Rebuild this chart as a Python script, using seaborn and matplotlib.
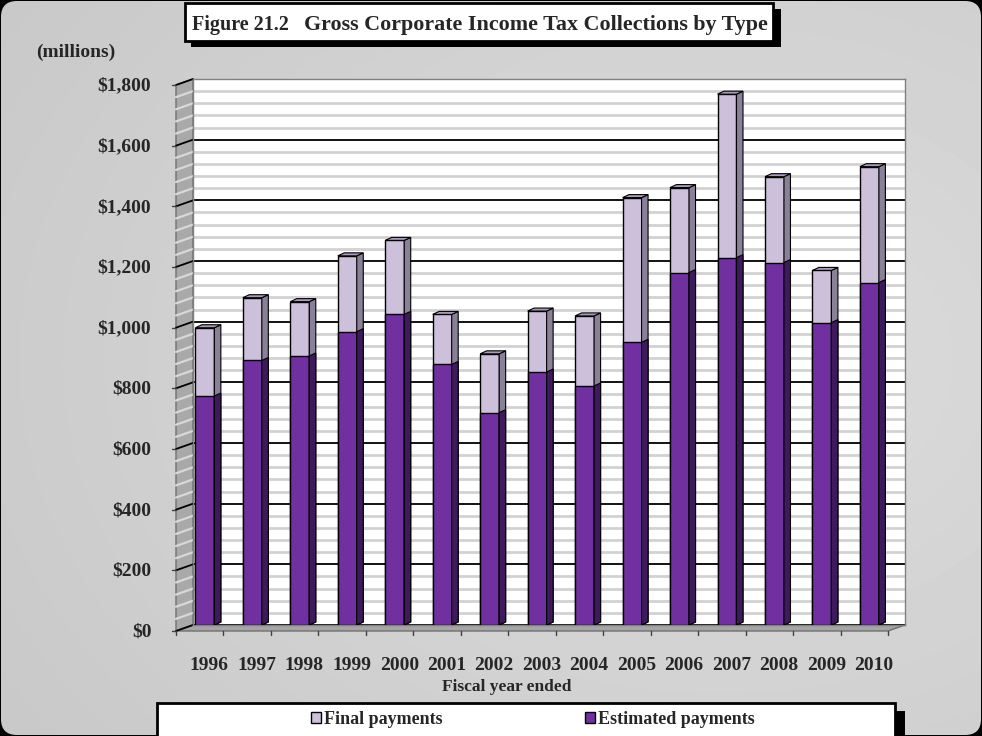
import numpy as np
import pandas as pd
import matplotlib
matplotlib.use("Agg")
import matplotlib.pyplot as plt
import matplotlib.transforms as mtransforms
from matplotlib.patches import Polygon, Rectangle, FancyBboxPatch, Patch
import seaborn as sns

# ---- data (millions of dollars) ----
years = [str(y) for y in range(1996, 2011)]
estimated = [755, 872, 887, 967, 1024, 859, 700, 834, 788, 932, 1162, 1211, 1195, 997, 1129]
final = [225, 207, 179, 250, 244, 165, 194, 201, 231, 477, 280, 539, 283, 172, 382]
y_ticks = list(range(0, 1801, 200))
y_ticklabels = [f"${v:,}" for v in y_ticks]

df = pd.DataFrame({"year": years, "estimated": estimated, "final": final})
df["total"] = df["estimated"] + df["final"]

# ---- colours ----
EST, EST_SIDE = "#7030A0", "#3E1A5C"
FIN, FIN_SIDE, FIN_TOP = "#CCC0DA", "#8A8098", "#A89CB8"

W, H = 982, 736
sns.set_theme(style="white")
plt.rcParams["font.family"] = ["Liberation Serif", "DejaVu Serif"]
plt.rcParams["font.weight"] = "bold"

fig = plt.figure(figsize=(W / 100, H / 100), dpi=100)
fig.patch.set_facecolor("black")

# background canvas in pixel units
bg = fig.add_axes([0, 0, 1, 1], zorder=0)
bg.set_xlim(0, W)
bg.set_ylim(H, 0)
bg.axis("off")

yy, xx = np.mgrid[0:H, 0:W]
r = np.hypot((xx - 720) / W, (yy - 360) / H)
shade = 0.865 - 0.09 * r
img = bg.imshow(shade, cmap="gray", vmin=0, vmax=1, extent=(0, W, H, 0),
                aspect="auto", zorder=0, interpolation="bilinear")
panel = FancyBboxPatch((1, 1), W - 2, H - 2, boxstyle="round,pad=0,rounding_size=16",
                       facecolor="none", edgecolor="none")
bg.add_patch(panel)
img.set_clip_path(panel)

# plot area (back wall)
L, R, T, B = 193, 905, 79, 625
ax = fig.add_axes([L / W, 1 - B / H, (R - L) / W, (B - T) / H], zorder=2)
ax.set_facecolor("white")

sns.barplot(data=df, x="year", y="total", color=FIN, width=0.4, saturation=1,
            edgecolor="black", linewidth=1.0, ax=ax, zorder=3)
sns.barplot(data=df, x="year", y="estimated", color=EST, width=0.4, saturation=1,
            edgecolor="black", linewidth=1.0, ax=ax, zorder=3)

ax.set_xlim(-0.25, 14.75)
ax.set_ylim(0, 1800)

# depth of the columns, converted to data units
px_x = (R - L) / 15.0
px_y = (B - T) / 1800.0
dx, dy = 6.5 / px_x, 3.0 / px_y

bars = list(ax.patches)
n = len(years)
for i, p in enumerate(bars):
    x, w, y0, h = p.get_x(), p.get_width(), p.get_y(), p.get_height()
    side = FIN_SIDE if i < n else EST_SIDE
    ax.add_patch(Polygon([(x + w, y0), (x + w + dx, y0 + dy), (x + w + dx, y0 + h + dy), (x + w, y0 + h)],
                         closed=True, facecolor=side, edgecolor="black", linewidth=0.8, zorder=3))
    if i < n:
        y1 = y0 + h
        ax.add_patch(Polygon([(x, y1), (x + dx, y1 + dy), (x + w + dx, y1 + dy), (x + w, y1)],
                             closed=True, facecolor=FIN_TOP, edgecolor="black", linewidth=0.8, zorder=3))

# gridlines
ax.set_yticks(y_ticks, labels=y_ticklabels)
ax.set_yticks(np.arange(0, 1801, 40), minor=True)
ax.grid(axis="y", which="minor", color="#D2D2D2", linewidth=2.0)
ax.grid(axis="y", which="major", color="black", linewidth=1.3)
ax.grid(axis="x", which="both", visible=False)
ax.set_axisbelow(True)
for s in ax.spines.values():
    s.set_color("#808080")
    s.set_linewidth(1.0)

ax.tick_params(axis="both", which="both", length=0)
ax.tick_params(axis="y", pad=30, labelsize=14)
ax.tick_params(axis="x", pad=23, labelsize=14)
ax.set_xticks(range(n), labels=years)

down = mtransforms.ScaledTranslation(0, -0.05, fig.dpi_scale_trans)
for lbl in ax.get_yticklabels():
    lbl.set_transform(lbl.get_transform() + down)
    lbl.set_fontweight("bold")
right = mtransforms.ScaledTranslation(0.045, 0, fig.dpi_scale_trans)
for lbl in ax.get_xticklabels():
    lbl.set_transform(lbl.get_transform() + right)
    lbl.set_fontweight("bold")

ax.set_xlabel("Fiscal year ended", fontsize=12.5, fontweight="bold", va="center")
ax.xaxis.set_label_coords((507 - L) / (R - L), (B - 687) / (B - T))
ax.set_ylabel("(millions)", fontsize=14, fontweight="bold", rotation=0, va="center", ha="center")
ax.yaxis.set_label_coords((76 - L) / (R - L), (B - 52) / (B - T))

# side wall and floor of the plot box
DX, DY = -17, 6
bg.add_patch(Polygon([(L + DX, T + DY), (L, T), (L, B), (L + DX, B + DY)], closed=True,
                     facecolor="#A9A9A9", edgecolor="#707070", linewidth=1.0, zorder=1))
for v in np.arange(0, 1801, 40):
    yb = B - v * px_y
    major = v % 200 == 0
    bg.plot([L, L + DX], [yb, yb + DY], color="black" if major else "#D8D8D8",
            linewidth=1.3 if major else 1.6, zorder=1.5)
    if major:
        bg.plot([L + DX - 4, L + DX], [yb + DY, yb + DY], color="#404040", linewidth=1.0, zorder=1.5)
bg.add_patch(Polygon([(L + DX, B + DY), (L, B), (R, B), (R + DX, B + DY)], closed=True,
                     facecolor="#A5A5A5", edgecolor="#707070", linewidth=1.0, zorder=1))
for i in range(n + 1):
    xf = L + DX + i * px_x
    bg.plot([xf, xf], [B + DY, B + DY + 4], color="#404040", linewidth=1.0, zorder=1.5)

# title box
bg.add_patch(Rectangle((191, 9), 590, 38, facecolor="black", edgecolor="none", zorder=3))
bg.add_patch(Rectangle((185, 3), 588, 38, facecolor="white", edgecolor="black", linewidth=2, zorder=4))
bg.text(192, 30, "Figure 21.2", fontsize=14.5, fontweight="bold", va="baseline", ha="left", zorder=5)
bg.text(304, 30, "Gross Corporate Income Tax Collections by Type", fontsize=15.8,
        fontweight="bold", va="baseline", ha="left", zorder=5)

# legend box
bg.add_patch(Rectangle((165, 711), 740, 40, facecolor="black", edgecolor="none", zorder=3))
bg.add_patch(Rectangle((157, 703), 738, 40, facecolor="white", edgecolor="black", linewidth=2, zorder=4))
handles = [Patch(facecolor=FIN, edgecolor="black", linewidth=1.0),
           Patch(facecolor=EST, edgecolor="black", linewidth=1.0)]
fig.legend(handles, ["Final payments", "Estimated payments"], ncol=2, loc="center",
           bbox_to_anchor=(533 / W, 1 - 719 / H), frameon=False,
           handlelength=0.55, handleheight=0.55, handletextpad=0.15, columnspacing=7.9,
           prop={"weight": "bold", "size": 13})

fig.savefig("out.png", dpi=100, facecolor=fig.get_facecolor())
